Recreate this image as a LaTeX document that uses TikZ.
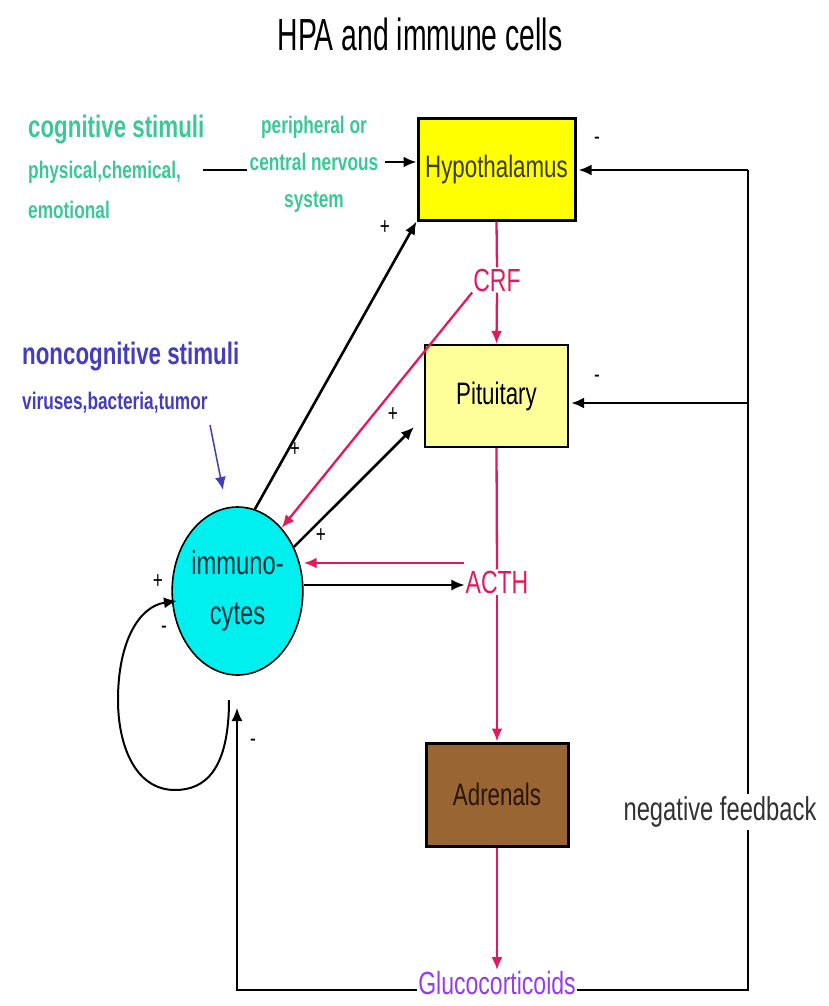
\documentclass[tikz,border=0pt]{standalone}
\usepackage{fontspec}
\setmainfont{Liberation Sans}[FakeStretch=0.72]
\newfontfamily\titlefont{Liberation Sans}[FakeStretch=0.63]
\usetikzlibrary{arrows.meta,shapes.geometric}
\definecolor{teal1}{RGB}{60,200,150}
\definecolor{blue1}{RGB}{70,60,190}
\definecolor{pink1}{RGB}{228,25,90}
\definecolor{purp1}{RGB}{150,60,235}
\definecolor{hypofill}{RGB}{255,255,0}
\definecolor{pitfill}{RGB}{255,255,153}
\definecolor{adrfill}{RGB}{153,102,51}
\definecolor{cyan1}{RGB}{0,240,240}
\begin{document}
\begin{tikzpicture}[x=1pt,y=-1pt,
  tip/.style={-{Latex[length=13pt,width=11pt]}},
  blk/.style={line width=2.6pt,black},
  pnk/.style={line width=2.3pt,pink1},
  organ/.style={draw=black,minimum width=#1,inner sep=0pt,font=\fontsize{31}{33}\selectfont},
  sign/.style={font=\fontsize{24}{26}\selectfont,inner sep=0pt},
  hormone/.style={font=\fontsize{32}{34}\selectfont,inner sep=1pt}]
\useasboundingbox (0,0) rectangle (829,1006);
% title
\node[font=\titlefont\fontsize{45}{47}\selectfont] (title) at (420,34) {HPA and immune cells};
% organs
\node[organ=157pt,minimum height=101pt,fill=hypofill,line width=3pt,text={rgb,255:red,60;green,60;blue,0}] (hypo) at (496.5,169.5) {Hypothalamus};
\node[organ=143pt,minimum height=102pt,fill=pitfill,line width=2.2pt] (pit) at (496.5,396) {Pituitary};
\node[organ=142pt,minimum height=103pt,fill=adrfill,line width=3pt,text={rgb,255:red,40;green,20;blue,0}] (adr) at (497,794.5) {Adrenals};
\node[ellipse,draw=black,line width=1.6pt,fill=cyan1,minimum width=105pt,minimum height=168pt,inner sep=0pt,align=center,font=\fontsize{33}{50}\selectfont,text={rgb,255:red,0;green,50;blue,60}] (imm) at (237.5,591) {immuno-\\cytes};
% hormones
\node[hormone,text=pink1] (crf) at (497,280) {CRF};
\node[hormone,text=pink1] (acth) at (497,582) {ACTH};
\node[hormone,text=purp1] (gluco) at (497,983) {Glucocorticoids};
% stimuli texts
\node[anchor=west,inner sep=0pt,font=\bfseries\fontsize{31}{33}\selectfont,text=teal1] (cog1) at (28,130) {cognitive stimuli};
\node[anchor=west,inner sep=0pt,font=\bfseries\fontsize{24}{26}\selectfont,text=teal1] (cog2) at (28,172) {physical,chemical,};
\node[anchor=west,inner sep=0pt,font=\bfseries\fontsize{24}{26}\selectfont,text=teal1] (cog3) at (28,210) {emotional};
\node[align=center,inner sep=2pt,font=\bfseries\fontsize{24}{37}\selectfont,text=teal1] (pns) at (314,164) {peripheral or\\central nervous\\system};
\node[anchor=west,inner sep=0pt,font=\bfseries\fontsize{31}{33}\selectfont,text=blue1] (ncog1) at (22,357) {noncognitive stimuli};
\node[anchor=west,inner sep=0pt,font=\bfseries\fontsize{24}{26}\selectfont,text=blue1] (ncog2) at (22,403) {viruses,bacteria,tumor};
% helper coordinates
\coordinate (fbB) at (748,990);
\coordinate (fbT) at (748,170);
\coordinate (fbP) at (748,403);
\coordinate (glB) at (237,990);
\coordinate (glT) at (237,708);
\coordinate (cogS) at (203,170);
\coordinate (ncS) at (210,425);
\coordinate (ncE) at (223,490);
\coordinate (loopS) at (229,700);
\coordinate (loopE) at (177,601);
% cognitive path
\draw[blk] (cogS) -- (pns.west |- cogS);
\draw[blk,tip] (385,162) -- (hypo.west |- 0,162);
% noncognitive
\draw[line width=1.5pt,blue1,tip] (ncS) -- (ncE);
% HPA axis
\draw[pnk] (hypo.south) -- (crf.north);
\draw[pnk,tip] (crf.south) -- (pit.north);
\draw[pnk] (pit.south) -- (acth.north);
\draw[pnk,tip] (acth.south) -- (adr.north);
\draw[pnk,tip] (adr.south) -- (gluco.north);
% immune interactions
\draw[blk,tip] (imm.78) -- (hypo.south west);
\draw[pnk,tip] (crf.south west) -- (imm.55);
\draw[blk,tip] (imm.38) -- (414,427);
\draw[pnk,line width=2.8pt,tip] (acth.west |- 0,563) -- (imm.east |- 0,563);
\draw[blk,line width=1.6pt,tip] (imm.east |- 0,585) -- (acth.west |- 0,585);
% self loop
\draw[line width=2pt,tip] (loopS) .. controls (229,770) and (205,790) .. (175,790)
  .. controls (135,790) and (118,745) .. (118,700)
  .. controls (118,640) and (140,606) .. (loopE);
% feedback
\draw[blk] (gluco.east |- fbB) -- (fbB) -- (fbT);
\draw[blk,tip] (fbT) -- ([xshift=2pt]hypo.east |- fbT);
\draw[blk,tip] (fbP) -- ([xshift=2pt]pit.east |- fbP);
\draw[blk,line width=1.8pt,tip] (gluco.west |- glB) -- (glB) -- (glT);
\node[fill=white,inner sep=3pt,font=\fontsize{33}{35}\selectfont,text={rgb,255:red,50;green,50;blue,50}] (nfb) at (720,812) {negative feedback};
% signs
\node[sign] (s1) at (597,141) {-};
\node[sign] (s2) at (385,228) {+};
\node[sign] (s3) at (597,379) {-};
\node[sign] (s4) at (393,415) {+};
\node[sign] (s5) at (295,450) {+};
\node[sign] (s6) at (321,536) {+};
\node[sign] (s7) at (158,582) {+};
\node[sign] (s8) at (164,630) {-};
\node[sign] (s9) at (253,743) {-};
\end{tikzpicture}
\end{document}
